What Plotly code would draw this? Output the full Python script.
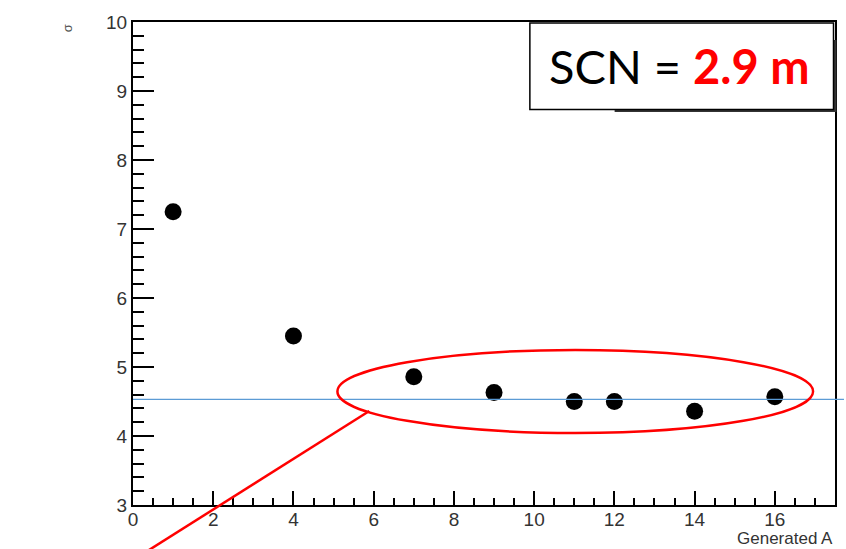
import plotly.graph_objects as go

# Resolution (sigma) versus generated A
generated_a = [1, 4, 7, 9, 11, 12, 14, 16]
sigma = [7.25, 5.45, 4.86, 4.63, 4.50, 4.50, 4.36, 4.57]
sigma_mean = 4.53
x_ticks = [0, 2, 4, 6, 8, 10, 12, 14, 16]
y_ticks = [3, 4, 5, 6, 7, 8, 9, 10]
label_black = "SCN = "
label_red = "2.9 m"

W, H = 846, 549
L, R, T, B = 133, 837, 22, 505  # plot-area edges in page pixels
Y_MIN, Y_MAX = 3, 10


def px(x):
    return (x - L) / (R - L)


def py(y):
    return (B - y) / (B - T)


fig = go.Figure()
fig.add_trace(go.Scatter(
    x=generated_a, y=sigma, mode="markers",
    marker=dict(symbol="circle", size=17, color="black"),
    showlegend=False, cliponaxis=False,
))

tick_font = dict(family="Liberation Sans, Arial", size=19, color="#333333")

fig.update_xaxes(
    range=[0, 17.5], tickvals=x_ticks, ticktext=[str(v) for v in x_ticks],
    ticks="inside", ticklen=14, tickwidth=2, tickcolor="black",
    minor=dict(dtick=0.5, tick0=0, ticks="inside", ticklen=7, tickwidth=2, tickcolor="black"),
    showline=True, linecolor="black", linewidth=2, mirror=True,
    showgrid=False, zeroline=False, tickfont=tick_font, ticklabelstandoff=-4,
)
fig.update_yaxes(
    range=[Y_MIN, Y_MAX], tickvals=y_ticks, ticktext=[str(v) for v in y_ticks],
    ticks="inside", ticklen=21, tickwidth=2, tickcolor="black",
    minor=dict(dtick=0.2, tick0=0, ticks="inside", ticklen=11, tickwidth=2, tickcolor="black"),
    showline=True, linecolor="black", linewidth=2, mirror=True,
    showgrid=False, zeroline=False, tickfont=tick_font,
)

shapes = []
# mean line across the pad
mean_y = (sigma_mean - Y_MIN) / (Y_MAX - Y_MIN)
shapes.append(dict(type="line", xref="paper", yref="paper",
                   x0=0, x1=px(W), y0=mean_y, y1=mean_y,
                   line=dict(color="#5b9bd5", width=1.2), layer="above"))
# highlight ellipse and pointer
shapes.append(dict(type="circle", xref="paper", yref="paper",
                   x0=px(338), x1=px(815), y0=py(433), y1=py(350),
                   line=dict(color="#ff0000", width=2.5), layer="above"))
shapes.append(dict(type="line", xref="paper", yref="paper",
                   x0=px(370), y0=py(411), x1=px(130), y1=py(562),
                   line=dict(color="#ff0000", width=2.5), layer="above"))
# stats pave with shadow, covered by the label box
shapes.append(dict(type="rect", xref="paper", yref="paper",
                   x0=px(616), x1=px(838.5), y0=py(112), y1=py(40),
                   fillcolor="#333333", line=dict(width=0), layer="above"))
shapes.append(dict(type="rect", xref="paper", yref="paper",
                   x0=px(531), x1=px(835.5), y0=py(109.5), y1=py(23),
                   fillcolor="white", line=dict(color="black", width=1.5), layer="above"))

annotations = [
    dict(xref="paper", yref="paper", x=px(681), y=py(66),
         xanchor="center", yanchor="middle", showarrow=False,
         text=label_black + "<b><span style='color:#ff0000'>" + label_red + "</span></b>",
         font=dict(family="Lato, Carlito, Calibri", size=47, color="black")),
    dict(xref="paper", yref="paper", x=px(836), y=py(538),
         xanchor="right", yanchor="middle", showarrow=False, borderpad=0,
         text="Generated A",
         font=dict(family="Liberation Sans, Arial", size=17, color="#333333")),
    dict(xref="paper", yref="paper", x=px(67), y=py(28),
         xanchor="center", yanchor="middle", showarrow=False, textangle=-90,
         text="σ",
         font=dict(family="Liberation Sans, Arial", size=13, color="#555555")),
]

fig.update_layout(
    width=W, height=H,
    margin=dict(l=L, r=W - R, t=T, b=H - B),
    paper_bgcolor="white", plot_bgcolor="white",
    shapes=shapes, annotations=annotations,
    showlegend=False,
)

fig.write_html("out.html")
